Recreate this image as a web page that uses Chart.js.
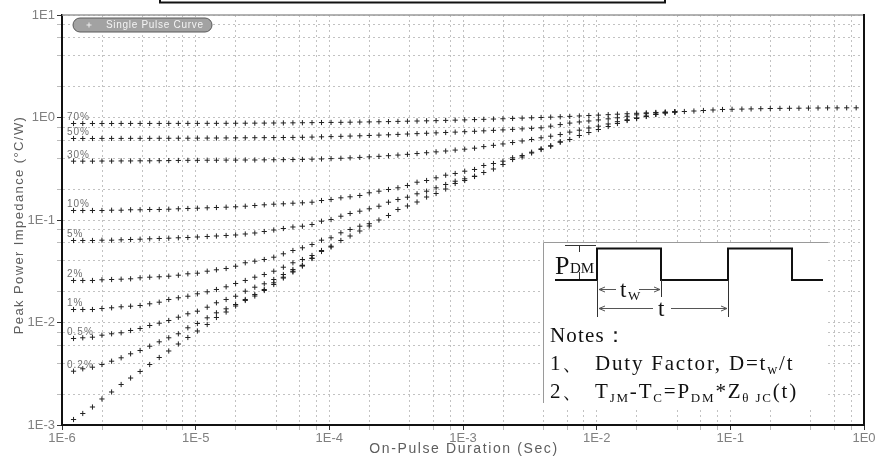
<!DOCTYPE html>
<html><head><meta charset="utf-8">
<script src="https://cdn.jsdelivr.net/npm/chart.js@4.4.1/dist/chart.umd.min.js"></script>
<style>html,body{margin:0;padding:0;background:#fff;overflow:hidden}canvas{display:block}</style>
</head><body><canvas id="c" width="879" height="458"></canvas>
<script>
// ---------- data ----------
const durations = [
1.22e-6,1.43e-6,1.69e-6,1.99e-6,2.35e-6,2.77e-6,3.26e-6,3.84e-6,4.53e-6,5.34e-6,6.29e-6,7.42e-6,8.74e-6,
1.03e-5,1.22e-5,1.43e-5,1.69e-5,1.99e-5,2.35e-5,2.77e-5,3.26e-5,3.84e-5,4.53e-5,5.34e-5,6.29e-5,7.42e-5,8.74e-5,
1.03e-4,1.22e-4,1.43e-4,1.69e-4,1.99e-4,2.35e-4,2.77e-4,3.26e-4,3.84e-4,4.53e-4,5.34e-4,6.29e-4,7.42e-4,8.74e-4,
1.03e-3,1.22e-3,1.43e-3,1.69e-3,1.99e-3,2.35e-3,2.77e-3,3.26e-3,3.84e-3,4.53e-3,5.34e-3,6.29e-3,7.42e-3,8.74e-3,
1.03e-2,1.22e-2,1.43e-2,1.69e-2,1.99e-2,2.35e-2,2.77e-2,3.26e-2,3.84e-2,4.53e-2,5.34e-2,6.29e-2,7.42e-2,8.74e-2,
1.03e-1,1.22e-1,1.43e-1,1.69e-1,1.99e-1,2.35e-1,2.77e-1,3.26e-1,3.84e-1,4.53e-1,5.34e-1,6.29e-1,7.42e-1,8.74e-1];

const singlePulse = [
1.131e-3,1.295e-3,1.498e-3,1.794e-3,2.099e-3,2.484e-3,2.873e-3,3.327e-3,3.892e-3,4.556e-3,5.272e-3,6.169e-3,7.139e-3,
8.26e-3,9.56e-3,1.119e-2,1.266e-2,1.449e-2,1.64e-2,1.813e-2,2.052e-2,2.348e-2,2.716e-2,3.11e-2,3.557e-2,4.21e-2,4.93e-2,
5.45e-2,6.31e-2,6.98e-2,7.81e-2,8.74e-2,0.1,0.1106,0.1266,0.137,0.1498,0.1676,0.1813,0.2006,0.2271,
0.2429,0.2657,0.2906,0.3145,0.3478,0.3892,0.4117,0.4504,0.4873,0.5248,0.5741,0.61,0.6673,0.7139,
0.7636,0.817,0.874,0.935,0.978,1.023,1.07,1.106,1.131,1.144,1.157,1.17,1.184,1.197,
1.202,1.208,1.213,1.219,1.224,1.227,1.23,1.232,1.235,1.238,1.241,1.241,1.243,1.243];

const duty70 = [0.874,0.874,0.874,0.874,0.874,0.875,0.875,0.875,0.875,0.875,0.876,0.876,0.876,
0.876,0.877,0.877,0.878,0.879,0.88,0.881,0.882,0.884,0.885,0.887,0.889,
0.891,0.893,0.895,0.897,0.9,0.903,0.906,0.909,0.912,0.916,0.92,0.924,
0.928,0.932,0.937,0.942,0.948,0.954,0.96,0.966,0.972,0.979,0.986,0.993,
1.0,1.008,1.017,1.026,1.035,1.045,1.055,1.066,1.077,1.088,1.099,1.11,1.12,1.128,1.135];
const duty50 = [0.624,0.624,0.624,0.625,0.625,0.625,0.626,0.626,0.626,0.627,0.627,0.628,0.628,
0.629,0.63,0.631,0.632,0.633,0.634,0.635,0.636,0.637,0.638,0.639,0.641,
0.644,0.648,0.651,0.655,0.659,0.663,0.668,0.673,0.678,0.684,0.69,0.696,
0.702,0.708,0.714,0.72,0.727,0.734,0.741,0.749,0.757,0.766,0.775,0.784,
0.793,0.823,0.853,0.882,0.905,0.925,0.947,0.97,0.993,1.028,1.062,1.09,1.108,1.124,1.135];
const duty30 = [0.375,0.375,0.375,0.376,0.376,0.377,0.377,0.378,0.378,0.379,0.38,0.381,0.382,
0.382,0.383,0.383,0.384,0.384,0.385,0.385,0.386,0.387,0.388,0.389,0.39,
0.392,0.394,0.397,0.4,0.404,0.408,0.413,0.418,0.424,0.43,0.437,0.445,
0.453,0.462,0.471,0.481,0.491,0.502,0.52,0.535,0.552,0.57,0.59,0.61,
0.634,0.657,0.682,0.72,0.752,0.79,0.823,0.865,0.91,0.95,0.99,1.035,1.075,1.11,1.133];
const duty10 = [0.1238,0.1238,0.1238,0.1238,0.1246,0.1246,0.1258,0.1258,0.1266,0.1266,0.1274,0.1286,0.1295,
0.1303,0.1315,0.1324,0.1333,0.1345,0.1363,0.1385,0.1407,0.1426,0.1439,0.1458,0.1471,
0.1491,0.1549,0.1585,0.1646,0.1684,0.1734,0.1842,0.191,0.1984,0.2061,0.2171,0.2337,
0.2428,0.258,0.2736,0.2843,0.2993,0.311,0.3402,0.3557,0.3748,0.4044,0.4259,0.4585,
0.495,0.53,0.58];
const duty5 = [0.0631,0.0631,0.0631,0.06353,0.06353,0.0641,0.06453,0.06497,0.06556,0.066,0.06644,0.06705,0.06749,
0.06826,0.06903,0.06981,0.0706,0.0714,0.07302,0.07468,0.07722,0.07986,0.08261,0.08545,0.087,
0.09039,0.09734,0.1011,0.1089,0.1157,0.1219,0.1286,0.1363,0.1491,0.1585,0.1669,0.1801,
0.191,0.2061,0.222,0.239,0.2523,0.2675];
const duty2 = [0.0257,0.0257,0.0257,0.0261,0.02627,0.02645,0.02669,0.0273,0.02767,0.02792,0.0283,0.02894,0.02986,
0.03027,0.03166,0.03267,0.03364,0.03543,0.03825,0.03963,0.04117,0.04336,0.04679,0.0504,0.05355,
0.05768,0.06353,0.06705,0.075,0.08078,0.087,0.092];
const duty1 = [0.01339,0.01339,0.01339,0.01369,0.01391,0.01423,0.01442,0.01465,0.01522,0.01578,0.01677,0.01742,0.01805,
0.01905,0.01993,0.02099,0.0223,0.02401,0.0257,0.02767,0.02939,0.03166,0.03463,0.03825,0.04117,
0.04504,0.0504,0.0555];
const duty05 = [0.006982,0.007092,0.007189,0.007519,0.007759,0.007935,0.008356,0.00874,0.009348,0.009845,0.01046,0.01126,0.01216,
0.01289,0.0141,0.01557,0.01677,0.01805,0.0202,0.0221,0.02385,0.02627,0.02939,0.0329,0.03622,0.0425];
const duty02 = [0.003349,0.003534,0.003664,0.003892,0.004193,0.004525,0.00495,0.00533,0.005871,0.00648,0.007092,0.007759,0.008879,
0.009777,0.01111,0.01243,0.0136,0.01498,0.01677,0.01876,0.02099,0.0244,0.02767,0.03166,0.0359];

const seriesNames = ['Single Pulse Curve','70%','50%','30%','10%','5%','2%','1%','0.5%','0.2%'];
const seriesValues = [singlePulse,duty70,duty50,duty30,duty10,duty5,duty2,duty1,duty05,duty02];

const xTickLabels = ['1E-6','1E-5','1E-4','1E-3','1E-2','1E-1','1E0'];
const yTickLabels = ['1E-3','1E-2','1E-1','1E0','1E1'];
const gridMantissas = [1,2,4,6,8];
const xTitle = 'On-Pulse Duration (Sec)';
const yTitle = 'Peak Power Impedance (\u00B0C/W)';

// ---------- helpers ----------
function decadeTicks(lo, hi){
  const t=[];
  for(let e=lo;e<hi;e++) for(const m of gridMantissas) t.push({value: parseFloat(m+'e'+e)});
  t.push({value: parseFloat('1e'+hi)});
  return t;
}
function decadeIndex(v, lo){
  const l=Math.log10(v), r=Math.round(l);
  return Math.abs(l-r)<1e-6 ? r-lo : -1;
}

const datasets = seriesValues.map((vals,k)=>({
  label: seriesNames[k],
  data: vals.map((v,i)=>({x: durations[i], y: v})),
  showLine:false,
  pointStyle:'cross',
  pointRadius:2.6,
  pointHoverRadius:2.6,
  pointBorderWidth:1,
  pointBorderColor:'#222',
  pointBackgroundColor:'#222'
}));

function rich(ctx, x, y, parts, size, subSize){
  for(const p of parts){
    const fs = p.sub ? subSize : size;
    ctx.font = fs+'px "Liberation Serif", serif';
    ctx.fillText(p.t, x, y + (p.sub ? 4 : 0));
    x += ctx.measureText(p.t).width;
  }
}
function arrowHead(ctx, x, y, dir){
  ctx.beginPath();
  ctx.moveTo(x + dir*6, y-2.5); ctx.lineTo(x, y); ctx.lineTo(x + dir*6, y+2.5);
  ctx.stroke();
}

const deco = {
  id:'deco',
  beforeDraw(chart){
    const c=chart.ctx; c.save(); c.fillStyle='#fff'; c.fillRect(0,0,chart.width,chart.height); c.restore();
  },
  beforeDatasetsDraw(chart){
    const c=chart.ctx, a=chart.chartArea;
    c.save();
    // top (gray) and right (black) frame
    c.strokeStyle='#9a9a9a'; c.lineWidth=1.5;
    c.beginPath(); c.moveTo(a.left, a.top); c.lineTo(a.right, a.top); c.stroke();
    c.strokeStyle='#111'; c.lineWidth=2;
    c.beginPath(); c.moveTo(a.right, a.top-1); c.lineTo(a.right, a.bottom); c.stroke();

    // notes inset
    const bx=543, by=242, bw=285, bh=165;
    c.fillStyle='#fff'; c.fillRect(bx,by,bw,bh);
    c.strokeStyle='#9a9a9a'; c.lineWidth=1;
    c.beginPath(); c.moveTo(bx+0.5,by+bh-4); c.lineTo(bx+0.5,by+0.5); c.lineTo(bx+bw,by+0.5); c.stroke();
    // waveform
    c.strokeStyle='#111'; c.lineWidth=2;
    c.beginPath();
    c.moveTo(555,280); c.lineTo(597,280); c.lineTo(597,248.5); c.lineTo(661,248.5); c.lineTo(661,280);
    c.lineTo(728,280); c.lineTo(728,248.5); c.lineTo(792,248.5); c.lineTo(792,280); c.lineTo(823,280);
    c.stroke();
    c.lineWidth=1; c.strokeStyle='#333';
    c.beginPath();
    c.moveTo(597.5,280); c.lineTo(597.5,317);
    c.moveTo(661.5,280); c.lineTo(661.5,297);
    c.moveTo(728.5,280); c.lineTo(728.5,317);
    c.moveTo(565,245.5); c.lineTo(596,245.5);
    c.moveTo(579.5,245); c.lineTo(579.5,252);
    c.moveTo(579.5,272); c.lineTo(579.5,279);
    c.stroke();
    // tw arrows
    c.strokeStyle='#555';
    c.beginPath(); c.moveTo(599,289.5); c.lineTo(616,289.5); c.moveTo(639,289.5); c.lineTo(660,289.5); c.stroke();
    arrowHead(c,599,289.5,1); arrowHead(c,660,289.5,-1);
    // t arrows
    c.beginPath(); c.moveTo(599,308.5); c.lineTo(653,308.5); c.moveTo(671,308.5); c.lineTo(727,308.5); c.stroke();
    arrowHead(c,599,308.5,1); arrowHead(c,727,308.5,-1);
    c.fillStyle='#111'; c.textBaseline='alphabetic'; c.textAlign='left';
    c.font='26px "Liberation Serif", serif'; c.fillText('P',555,274);
    c.font='15px "Liberation Serif", serif'; c.fillText('DM',570,273);
    c.font='23px "Liberation Serif", serif'; c.fillText('t',620,297);
    c.font='13px "Liberation Serif", serif'; c.fillText('W',628,300);
    c.font='23px "Liberation Serif", serif'; c.fillText('t',658,316);
    c.letterSpacing='1.2px';
    rich(c,550,342,[{t:'Notes\uFF1A'}],21,14);
    rich(c,550,370,[{t:'1\u3001'}],21,14);
    rich(c,550,398,[{t:'2\u3001'}],21,14);
    c.letterSpacing='1.8px';
    rich(c,595,370,[{t:'Duty Factor, D=t'},{t:'w',sub:true},{t:'/t'}],21,14);
    rich(c,595,398,[{t:'T'},{t:'JM',sub:true},{t:'-T'},{t:'C',sub:true},{t:'=P'},{t:'DM',sub:true},{t:'*Z'},{t:'\u03B8 JC',sub:true},{t:'(t)'}],21,13);
    c.letterSpacing='0px';
    c.restore();
  },
  afterDatasetsDraw(chart){
    const c=chart.ctx, a=chart.chartArea;
    c.save();
    // duty labels, placed above each curve's first point
    c.font='10px "Liberation Sans", Arial, sans-serif';
    c.fillStyle='#707070'; c.textBaseline='middle'; c.textAlign='left';
    c.letterSpacing='1px';
    for(let k=1;k<seriesNames.length;k++){
      const p=chart.getDatasetMeta(k).data[0];
      c.fillText(seriesNames[k], a.left+5, p.y-6);
    }
    // legend pill
    const lx=73, ly=18, lw=139, lh=14, r=7;
    c.beginPath();
    c.moveTo(lx+r,ly); c.lineTo(lx+lw-r,ly); c.arc(lx+lw-r,ly+r,r,-Math.PI/2,Math.PI/2);
    c.lineTo(lx+r,ly+lh); c.arc(lx+r,ly+r,r,Math.PI/2,Math.PI*1.5); c.closePath();
    c.fillStyle='#a2a2a2'; c.fill(); c.strokeStyle='#5a5a5a'; c.lineWidth=1; c.stroke();
    c.strokeStyle='#eeeeee'; c.beginPath(); c.moveTo(86.5,25); c.lineTo(91.5,25); c.moveTo(89,22.5); c.lineTo(89,27.5); c.stroke();
    c.fillStyle='#f4f4f4'; c.font='10px "Liberation Sans", Arial, sans-serif'; c.letterSpacing='0.7px';
    c.fillText(seriesNames[0], 106, 25.5);
    // cut-off box at top
    c.letterSpacing='0px';
    c.strokeStyle='#111'; c.lineWidth=2;
    c.strokeRect(160,-10,505,12.5);
    c.restore();
  },
  afterDraw(chart){
    const c=chart.ctx;
    c.save();
    c.fillStyle='#5e5e5e'; c.textAlign='center'; c.textBaseline='middle';
    c.font='14px "Liberation Sans", Arial, sans-serif'; c.letterSpacing='1.6px';
    c.fillText(xTitle, 464, 449);
    c.font='13px "Liberation Sans", Arial, sans-serif'; c.letterSpacing='1.4px';
    c.translate(19,225); c.rotate(-Math.PI/2);
    c.fillText(yTitle, 0, 0);
    c.restore();
  }
};

new Chart(document.getElementById('c'), {
  type:'scatter',
  data:{datasets},
  plugins:[deco],
  options:{
    responsive:false, animation:false, events:[],
    layout:{padding:{left:0,right:15,top:15,bottom:0}},
    plugins:{legend:{display:false}, tooltip:{enabled:false}},
    scales:{
      x:{
        type:'logarithmic', min:1e-6, max:1,
        afterBuildTicks(axis){ axis.ticks = decadeTicks(-6,0); },
        afterFit(s){ s.height=33; },
        ticks:{autoSkip:false, maxRotation:0, padding:1, color:'#808080',
          font:{family:'"Liberation Sans", Arial, sans-serif', size:13},
          callback(v){ const d=decadeIndex(v,-6); return d>=0 ? xTickLabels[d] : ''; }},
        grid:{color:'#c2c2c2', lineWidth:1, tickLength:5,
          tickColor:(ctx)=> (ctx.tick && decadeIndex(ctx.tick.value,-6)>=0) ? '#333' : '#bbb'},
        border:{display:true, color:'#111', width:2, dash:[2,3]}
      },
      y:{
        type:'logarithmic', min:1e-3, max:10,
        afterBuildTicks(axis){ axis.ticks = decadeTicks(-3,1); },
        afterFit(s){ s.width=62; },
        ticks:{autoSkip:false, padding:2, color:'#808080',
          font:{family:'"Liberation Sans", Arial, sans-serif', size:13},
          callback(v){ const d=decadeIndex(v,-3); return d>=0 ? yTickLabels[d] : ''; }},
        grid:{color:'#c2c2c2', lineWidth:1, tickLength:5,
          tickColor:(ctx)=> (ctx.tick && decadeIndex(ctx.tick.value,-3)>=0) ? '#333' : '#bbb'},
        border:{display:true, color:'#111', width:2, dash:[2,3]}
      }
    }
  }
});
</script>
</body></html>
